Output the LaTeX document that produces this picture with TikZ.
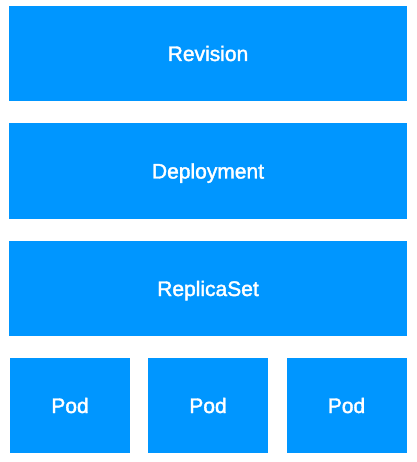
\documentclass[tikz,border=0pt]{standalone}
\usepackage{fontspec}
\setmainfont{Liberation Sans}
\newfontfamily\layerfont[FakeBold=1.8]{Liberation Sans}
\definecolor{k8sblue}{RGB}{0,150,255}
\definecolor{k8stext}{RGB}{255,255,255}

\begin{document}
\begin{tikzpicture}[
  x=1pt,
  y=-1pt,
  every node/.style={inner sep=0pt, outer sep=0pt},
  layer/.style={fill=k8sblue, text=k8stext, minimum width=398pt, minimum height=95pt,
    font=\layerfont\fontsize{21}{24}\selectfont, text height=15pt, text depth=0pt},
  podbox/.style={layer, minimum width=120pt}
]

  \path[use as bounding box, fill=white] (0,0) rectangle (416,462);

  % Stacked controller layers.
  \node[layer] (revision) at (208,53.5) {Revision};
  \node[layer] (deployment) at (208,171) {Deployment};
  \node[layer] (replicaset) at (208,288.5) {ReplicaSet};

  % Pods managed by the ReplicaSet.
  \node[podbox] (pod1) at (70,405.5) {Pod};
  \node[podbox] (pod2) at (208,405.5) {Pod};
  \node[podbox] (pod3) at (346.5,405.5) {Pod};

\end{tikzpicture}
\end{document}
